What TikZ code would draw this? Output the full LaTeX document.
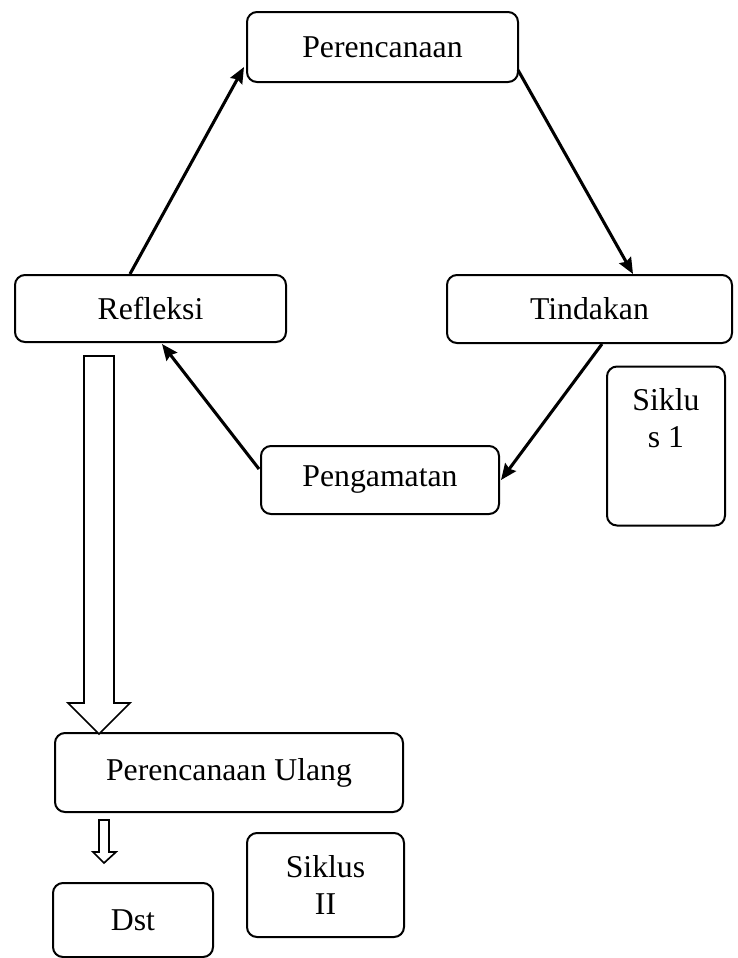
\documentclass[tikz,border=0pt]{standalone}
\usepackage{fontspec}
\setmainfont{Liberation Serif}
\usetikzlibrary{arrows.meta}
\newdimen\pxu
\pxu=0.75pt
\tikzset{
  box/.style={draw, line width=1.5pt, rounded corners=7.5pt, inner sep=0pt, align=center,
    font=\fontsize{23.8}{27.75}\selectfont},
  txt/.style={inner sep=0pt, align=center, font=\fontsize{23.8}{27.75}\selectfont},
  flow/.style={line width=2.3pt, -{Stealth[length=12pt,width=10pt,inset=1.5pt]}},
  hollow/.style={draw, line width=1.25pt, fill=white, line join=miter}
}
\begin{document}
\begin{tikzpicture}[x=0.75pt,y=-0.75pt]
\useasboundingbox (0,0) rectangle (738,958);
% nodes
\node[box, minimum width=271\pxu, minimum height=70\pxu] (per) at (382.5,47) {Perencanaan};
\node[box, minimum width=271\pxu, minimum height=67\pxu] (ref) at (150.5,308.5) {Refleksi};
\node[box, minimum width=285\pxu, minimum height=68\pxu] (tin) at (589.5,309) {Tindakan};
\node[box, minimum width=238\pxu, minimum height=68\pxu] (pen) at (380,480) {Pengamatan};
\node[box, minimum width=118\pxu, minimum height=159\pxu] (s1) at (666,446) {};
\node[txt] (s1t) at (666,418) {Siklu\\s 1};
\node[box, minimum width=348\pxu, minimum height=79\pxu] (pu) at (229,772.5) {Perencanaan Ulang};
\node[box, minimum width=157\pxu, minimum height=104\pxu] (s2) at (325.5,885) {Siklus\\II};
\node[box, minimum width=160\pxu, minimum height=74\pxu] (dst) at (133,920) {Dst};
% cycle arrows
\draw[flow] ([xshift=116\pxu]ref.north west) -- ([shift={(-2,20)}]per.west);
\draw[flow] ([shift={(-1,23)}]per.east) -- ([xshift=187\pxu]tin.north west);
\draw[flow] ([xshift=156\pxu]tin.south west) -- ([xshift=1\pxu]pen.east);
\draw[flow] ([shift={(-1,-11)}]pen.west) -- ([shift={(148,1)}]ref.south west);
% hollow block arrows
\draw[hollow] (84,356) -- (114,356) -- (114,703) -- (130,703) -- (99,734) -- (68,703) -- (84,703) -- cycle;
\draw[hollow] (99,820) -- (109,820) -- (109,852) -- (116,852) -- (104,863) -- (93,852) -- (99,852) -- cycle;
\end{tikzpicture}
\end{document}
